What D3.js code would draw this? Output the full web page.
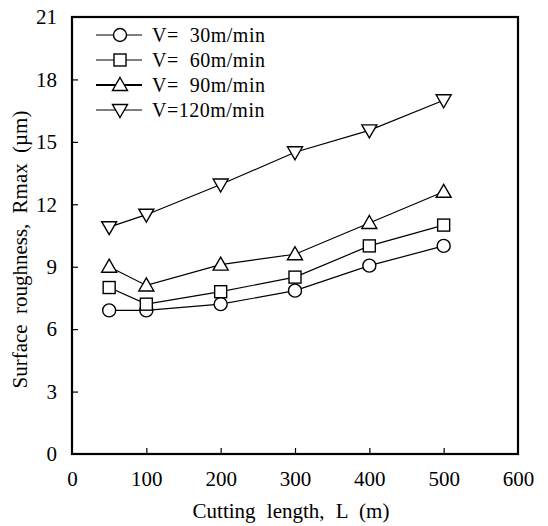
<!DOCTYPE html>
<html>
<head>
<meta charset="utf-8">
<script src="https://cdn.jsdelivr.net/npm/d3@7"></script>
<style>
  body { margin: 0; background: #fff; }
  text { font-family: "Liberation Serif", "DejaVu Serif", serif; fill: #000; }
</style>
</head>
<body>
<div id="chart"></div>
<script>
var lengths = [50, 100, 200, 300, 400, 500]
var v30 = [6.9, 6.9, 7.2, 7.85, 9.05, 10.0]
var v60 = [8.0, 7.2, 7.8, 8.5, 10.0, 11.0]
var v90 = [9.0, 8.1, 9.1, 9.6, 11.1, 12.6]
var v120 = [10.9, 11.5, 12.95, 14.5, 15.55, 17.0]
var seriesNames = ["V=  30m/min", "V=  60m/min", "V=  90m/min", "V=120m/min"]
var xTicks = [0, 100, 200, 300, 400, 500, 600]
var yTicks = [0, 3, 6, 9, 12, 15, 18, 21]

var series = [
  { name: seriesNames[0], values: v30, shape: "circle" },
  { name: seriesNames[1], values: v60, shape: "square" },
  { name: seriesNames[2], values: v90, shape: "up" },
  { name: seriesNames[3], values: v120, shape: "down" }
]

var width = 548, height = 526
var plotL = 72, plotR = 518, plotT = 17, plotB = 454

var svg = d3.select("#chart").append("svg")
  .attr("width", width)
  .attr("height", height)

var x = d3.scaleLinear().domain([0, 600]).range([plotL, plotR])
var y = d3.scaleLinear().domain([0, 21]).range([plotB, plotT])

// axes, ticks pointing inside

var xAxis = svg.append("g")
  .attr("transform", `translate(0,${plotB})`)
  .call(d3.axisBottom(x).tickValues(xTicks).tickSize(-6).tickPadding(17))
xAxis.select(".domain").remove()
xAxis.selectAll("text").attr("font-size", 21).attr("font-family", "Liberation Serif")
xAxis.selectAll("line").attr("stroke-width", 1.2)
  .filter(d => d == 0 || d == 600).remove()

var yAxis = svg.append("g")
  .attr("transform", `translate(${plotL},0)`)
  .call(d3.axisLeft(y).tickValues(yTicks).tickSize(-6).tickPadding(15))
yAxis.select(".domain").remove()
yAxis.selectAll("text").attr("font-size", 21).attr("font-family", "Liberation Serif")
yAxis.selectAll("line").attr("stroke-width", 1.2)
  .filter(d => d == 0 || d == 21).remove()

svg.append("rect")
  .attr("x", plotL)
  .attr("y", plotT)
  .attr("width", plotR - plotL)
  .attr("height", plotB - plotT)
  .attr("fill", "none")
  .attr("stroke", "#000")
  .attr("stroke-width", 2.2)

svg.append("text")
  .attr("x", (plotL + plotR) / 2 - 4)
  .attr("y", 518)
  .attr("text-anchor", "middle")
  .attr("font-size", 21)
  .attr("word-spacing", 6)
  .text("Cutting length, L (m)")

svg.append("text")
  .attr("transform", `translate(27,${(plotT + plotB) / 2 + 14}) rotate(-90)`)
  .attr("text-anchor", "middle")
  .attr("font-size", 21)
  .attr("word-spacing", 5)
  .text("Surface roughness, Rmax (µm)")

// markers

var marker = function (g, shape) {
  if (shape == "circle") {
    g.append("circle").attr("r", 6.5)
  } else if (shape == "square") {
    g.append("rect").attr("x", -6).attr("y", -6).attr("width", 12).attr("height", 12)
  } else if (shape == "up") {
    g.append("path").attr("d", "M0,-7.5L7.5,5.5L-7.5,5.5Z")
  } else {
    g.append("path").attr("d", "M0,7.5L7.5,-5.5L-7.5,-5.5Z")
  }
  g.selectAll("*")
    .attr("fill", "#fff")
    .attr("stroke", "#000")
    .attr("stroke-width", 1.4)
}

var line = d3.line()
  .x((d, i) => x(lengths[i]))
  .y(d => y(d))

series.forEach(function (s) {
  svg.append("path")
    .attr("d", line(s.values))
    .attr("fill", "none")
    .attr("stroke", "#000")
    .attr("stroke-width", 1.2)

  s.values.forEach(function (v, i) {
    var g = svg.append("g")
      .attr("transform", `translate(${x(lengths[i])},${y(v)})`)
    marker(g, s.shape)
  })
})

// legend

var legend = svg.append("g")
series.forEach(function (s, i) {
  var ly = 35 + i * 25
  legend.append("line")
    .attr("x1", 96).attr("x2", 142)
    .attr("y1", ly).attr("y2", ly)
    .attr("stroke", "#000")
    .attr("stroke-width", s.shape == "up" ? 2 : 1.2)
  var g = legend.append("g").attr("transform", `translate(120,${ly})`)
  marker(g, s.shape)
  legend.append("text")
    .attr("x", 152)
    .attr("y", ly + 7)
    .attr("font-size", 20)
    .attr("letter-spacing", 0.5)
    .style("white-space", "pre")
    .text(s.name)
})
</script>
</body>
</html>
